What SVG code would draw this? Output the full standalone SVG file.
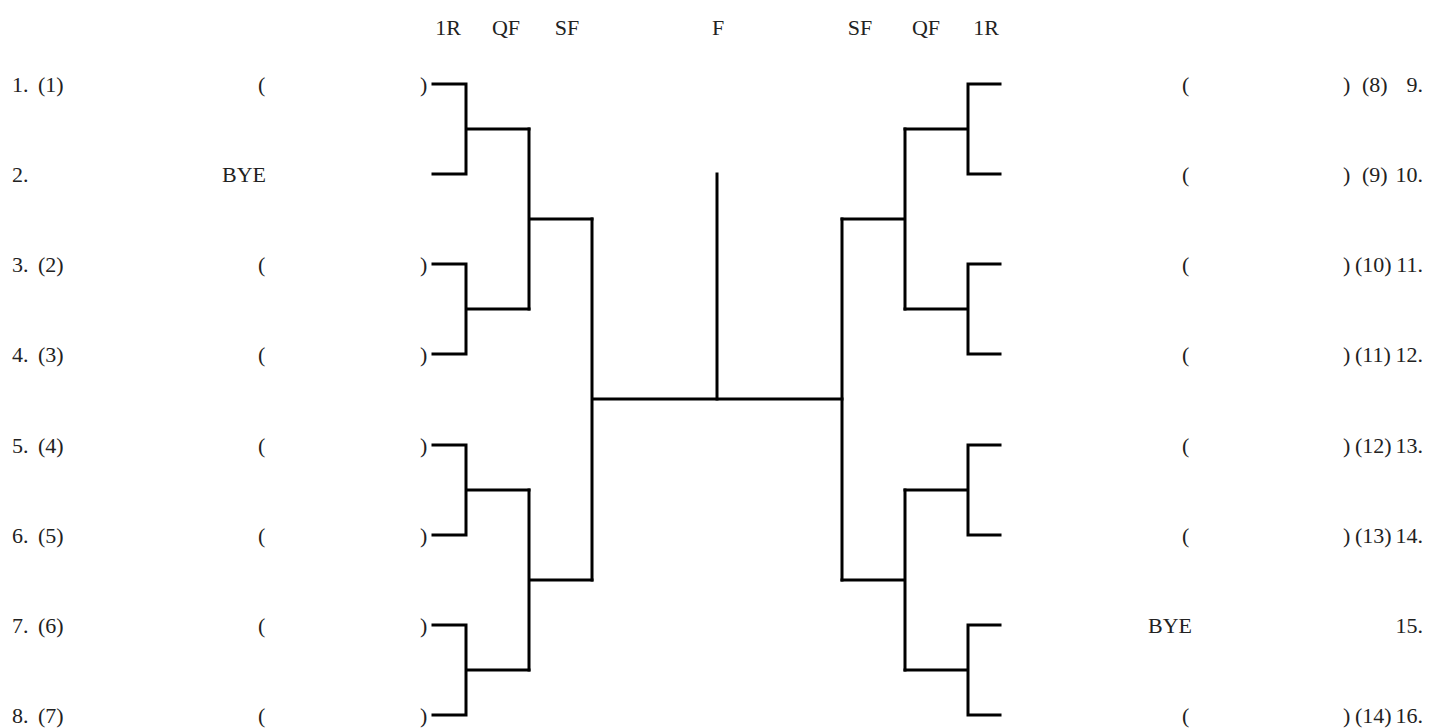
<svg xmlns="http://www.w3.org/2000/svg" width="1451" height="728" viewBox="0 0 1451 728">
<style>
text{font-family:"Liberation Serif","DejaVu Serif",serif;font-size:22px;fill:#222}
.e{text-anchor:end}
.c{text-anchor:middle}
#connectors path{fill:none;stroke:#000;stroke-width:3;stroke-linecap:square;stroke-linejoin:miter}
</style>
<rect width="1451" height="728" fill="#fff"/>
<g id="headers">
<text x="448" y="35" class="c">1R</text>
<text x="506" y="35" class="c">QF</text>
<text x="567" y="35" class="c">SF</text>
<text x="718" y="35" class="c">F</text>
<text x="860" y="35" class="c">SF</text>
<text x="926" y="35" class="c">QF</text>
<text x="986" y="35" class="c">1R</text>
</g>
<g id="p1"><text x="12" y="92">1.</text><text x="38" y="92">(1)</text><text x="258" y="92">(</text><text x="420" y="92">)</text></g>
<g id="p2"><text x="12" y="182">2.</text><text x="222" y="182">BYE</text></g>
<g id="p3"><text x="12" y="272">3.</text><text x="38" y="272">(2)</text><text x="258" y="272">(</text><text x="420" y="272">)</text></g>
<g id="p4"><text x="12" y="362">4.</text><text x="38" y="362">(3)</text><text x="258" y="362">(</text><text x="420" y="362">)</text></g>
<g id="p5"><text x="12" y="453">5.</text><text x="38" y="453">(4)</text><text x="258" y="453">(</text><text x="420" y="453">)</text></g>
<g id="p6"><text x="12" y="543">6.</text><text x="38" y="543">(5)</text><text x="258" y="543">(</text><text x="420" y="543">)</text></g>
<g id="p7"><text x="12" y="633">7.</text><text x="38" y="633">(6)</text><text x="258" y="633">(</text><text x="420" y="633">)</text></g>
<g id="p8"><text x="12" y="723">8.</text><text x="38" y="723">(7)</text><text x="258" y="723">(</text><text x="420" y="723">)</text></g>
<g id="p9"><text x="1182" y="92">(</text><text x="1343" y="92">)</text><text x="1362" y="92">(8)</text><text x="1423" y="92" class="e">9.</text></g>
<g id="p10"><text x="1182" y="182">(</text><text x="1343" y="182">)</text><text x="1362" y="182">(9)</text><text x="1423" y="182" class="e">10.</text></g>
<g id="p11"><text x="1182" y="272">(</text><text x="1343" y="272">)</text><text x="1355" y="272">(10)</text><text x="1423" y="272" class="e">11.</text></g>
<g id="p12"><text x="1182" y="362">(</text><text x="1343" y="362">)</text><text x="1355" y="362">(11)</text><text x="1423" y="362" class="e">12.</text></g>
<g id="p13"><text x="1182" y="453">(</text><text x="1343" y="453">)</text><text x="1355" y="453">(12)</text><text x="1423" y="453" class="e">13.</text></g>
<g id="p14"><text x="1182" y="543">(</text><text x="1343" y="543">)</text><text x="1355" y="543">(13)</text><text x="1423" y="543" class="e">14.</text></g>
<g id="p15"><text x="1148" y="633">BYE</text><text x="1423" y="633" class="e">15.</text></g>
<g id="p16"><text x="1182" y="723">(</text><text x="1343" y="723">)</text><text x="1355" y="723">(14)</text><text x="1423" y="723" class="e">16.</text></g>
<g id="connectors">
<path d="M433 84H466V174H433M466 129H529"/>
<path d="M433 264H466V354H433M466 309H529"/>
<path d="M433 445H466V535H433M466 490H529"/>
<path d="M433 625H466V715H433M466 670H529"/>
<path d="M529 129V309M529 219H592"/>
<path d="M529 490V670M529 580H592"/>
<path d="M592 219V580M592 399H842"/>
<path d="M717 174V399"/>
<path d="M1000 84H968V174H1000M968 129H905"/>
<path d="M1000 264H968V354H1000M968 309H905"/>
<path d="M1000 445H968V535H1000M968 490H905"/>
<path d="M1000 625H968V715H1000M968 670H905"/>
<path d="M905 129V309M905 219H842"/>
<path d="M905 490V670M905 580H842"/>
<path d="M842 219V580"/>
</g>
</svg>
